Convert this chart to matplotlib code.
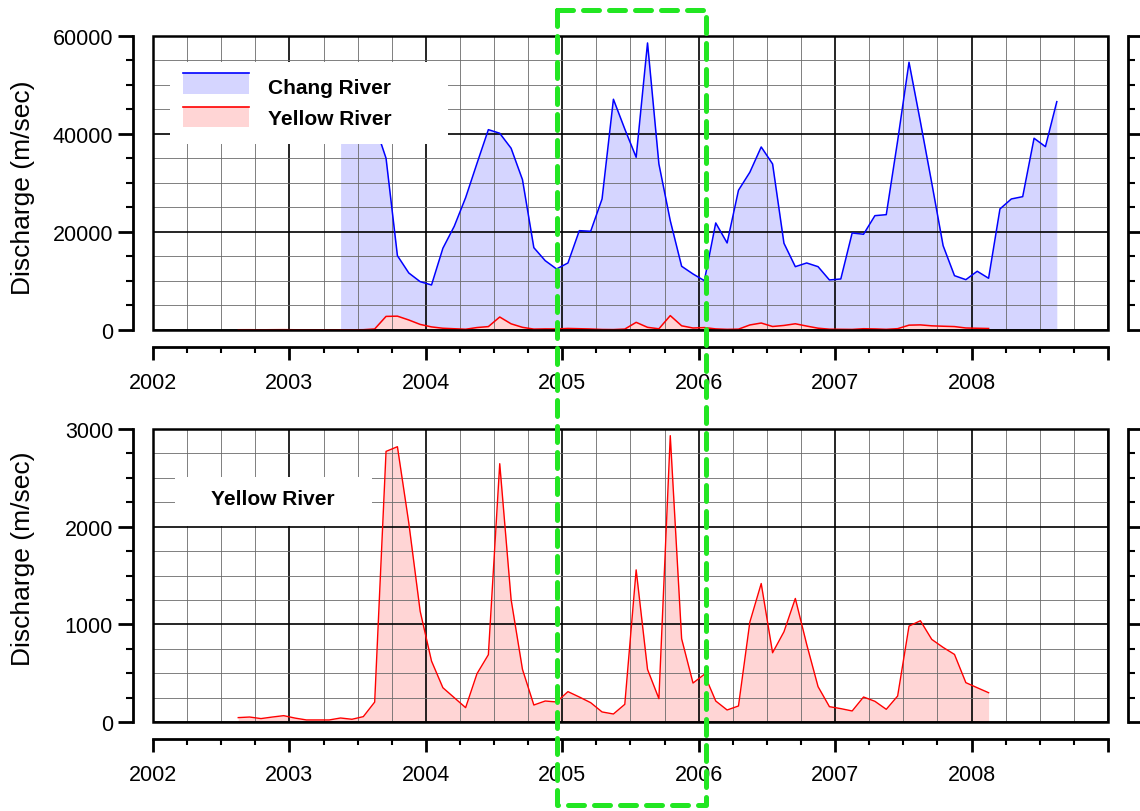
import numpy as np
import pandas as pd
import matplotlib
matplotlib.use("Agg")
import matplotlib.pyplot as plt
from matplotlib import font_manager
from matplotlib.patches import Rectangle
from matplotlib.lines import Line2D
from matplotlib.ticker import MultipleLocator

plt.rcParams["font.family"] = ["Liberation Sans", "DejaVu Sans"]

# monthly discharge (mid-month points)
chang_start = "2003-05"
chang = [40000, 45000, 47000, 42000, 35040, 15163, 11633, 9857,
         9184, 16673, 21163, 27000, 34000, 40877, 40143, 37082, 30673, 16796, 14143, 12449,
         13673, 20265, 20143, 26734, 47081, 41000, 35245, 58571, 33877, 22306, 13000, 11429,
         10061, 21837, 17755, 28510, 32183, 37346, 33877, 17694, 12918, 13673, 12918, 10204,
         10408, 19796, 19530, 23326, 23530, 38600, 54632, 42500, 30000, 17204, 11082, 10265,
         11980, 10551, 24694, 26734, 27204, 39122, 37408, 46591]

yellow_start = "2002-08"
yellow = [45, 51, 35, 51, 65,
          40, 21, 21, 21, 41, 28, 55, 204, 2771, 2819, 2039, 1135,
          624, 351, 249, 147, 495, 689, 2645, 1254, 539, 174, 215, 205,
          311, 256, 198, 103, 82, 181, 1558, 539, 239, 2932, 852, 399,
          488, 215, 123, 164, 1023, 1418, 709, 924, 1265, 795, 362, 157,
          137, 113, 256, 212, 130, 266, 982, 1037, 846, 764, 692, 403,
          351, 300]

years = list(range(2002, 2010))
year_labels = [str(y) for y in years[:-1]] + [""]

chang_line, chang_fill = "#0000ff", "#d5d5ff"
yellow_line, yellow_fill = "#ff0000", "#ffd5d5"


def decimal_months(start, n):
    d = pd.date_range(start, periods=n, freq="MS")
    return d.year + (d.month - 0.5) / 12.0


xc = decimal_months(chang_start, len(chang))
xy = decimal_months(yellow_start, len(yellow))

names = {f.name for f in font_manager.fontManager.ttflist}
if "Liberation Sans Narrow" in names:
    xfont, xsize = "Liberation Sans Narrow", 19
else:
    xfont, xsize = "Liberation Sans", 15.5

fig = plt.figure(figsize=(11.4, 8.12), dpi=100)
ax1 = fig.add_axes([0.1342, 0.5924, 0.8377, 0.3621])
ax2 = fig.add_axes([0.1342, 0.1096, 0.8377, 0.3608])


def style(ax, ymax, ymaj, ymin, label_y):
    ax.set_xlim(2002, 2009)
    ax.set_ylim(0, ymax)
    ax.set_xticks(years, year_labels)
    ax.xaxis.set_minor_locator(MultipleLocator(0.25))
    ax.yaxis.set_major_locator(MultipleLocator(ymaj))
    ax.yaxis.set_minor_locator(MultipleLocator(ymin))
    ax.set_axisbelow(False)
    ax.grid(which="major", color="black", lw=1.2)
    ax.grid(which="minor", color="#6a6a6a", lw=0.6)
    ax.spines["top"].set_visible(False)
    ax.spines["left"].set_position(("outward", 14.4))
    ax.spines["right"].set_position(("outward", 14.4))
    ax.spines["bottom"].set_position(("outward", 12.5))
    for s in ["left", "right", "bottom"]:
        ax.spines[s].set_linewidth(2)
    ax.tick_params(axis="y", which="major", length=10.8, width=2, labelsize=15.5,
                   pad=3.6, left=True, right=True, labelright=False)
    ax.tick_params(axis="y", which="minor", length=5, width=1.5, left=True, right=True)
    ax.tick_params(axis="x", which="major", length=9.6, width=2, pad=8, top=False,
                   labelsize=xsize, labelfontfamily=xfont)
    ax.tick_params(axis="x", which="minor", length=4, width=1.5, top=False)
    ax.set_ylabel("Discharge (m/sec)", fontsize=19)
    ax.yaxis.set_label_coords(-0.1235, label_y)
    ax.add_patch(Rectangle((0, 0), 1, 1, transform=ax.transAxes, fill=False,
                           ec="black", lw=1.8, zorder=3.5, clip_on=False))


# top panel
ax1.fill_between(xc, chang, color=chang_fill, lw=0, zorder=1)
ax1.fill_between(xy, yellow, color=yellow_fill, lw=0, zorder=1.1)
ax1.plot(xc, chang, color=chang_line, lw=1.1, zorder=3)
ax1.plot(xy, yellow, color=yellow_line, lw=1.1, zorder=3)
style(ax1, 60000, 20000, 5000, 0.486)

ax1.add_patch(Rectangle((0.0178, 0.633), 0.291, 0.279, transform=ax1.transAxes,
                        fc="white", ec="none", zorder=5))
for (y_line, y_bot, fc, lc, name, y_txt) in [
        (0.8724, 0.8027, chang_fill, chang_line, "Chang River", 0.8255),
        (0.7595, 0.6915, yellow_fill, yellow_line, "Yellow River", 0.72)]:
    ax1.add_patch(Rectangle((0.0314, y_bot), 0.0691, y_line - y_bot,
                            transform=ax1.transAxes, fc=fc, ec="none", zorder=6))
    ax1.add_line(Line2D([0.0314, 0.1005], [y_line, y_line], color=lc, lw=1.2,
                        transform=ax1.transAxes, zorder=7))
    ax1.text(0.1204, y_txt, name, transform=ax1.transAxes, fontsize=15,
             fontweight="bold", ha="left", va="center", zorder=7)

# bottom panel
ax2.fill_between(xy, yellow, color=yellow_fill, lw=0, zorder=1)
ax2.plot(xy, yellow, color=yellow_line, lw=1.0, zorder=3)
style(ax2, 3000, 1000, 250, 0.559)

ax2.add_patch(Rectangle((0.023, 0.669), 0.206, 0.166, transform=ax2.transAxes,
                        fc="white", ec="none", zorder=5))
ax2.text(0.1251, 0.763, "Yellow River", transform=ax2.transAxes, fontsize=15,
         fontweight="bold", ha="center", va="center", zorder=6)

# highlight box for 2005
x0, x1, y0, y1 = 0.4889, 0.6189, 0.0075, 0.9868
fig.add_artist(Line2D([x0, x1, x1, x0, x0], [y1, y1, y0, y0, y1],
                      transform=fig.transFigure, color="#22e622", lw=3.6,
                      dashes=(3.2, 2.0), dash_capstyle="round",
                      solid_joinstyle="round", zorder=10))

fig.savefig("out.png", dpi=100)
